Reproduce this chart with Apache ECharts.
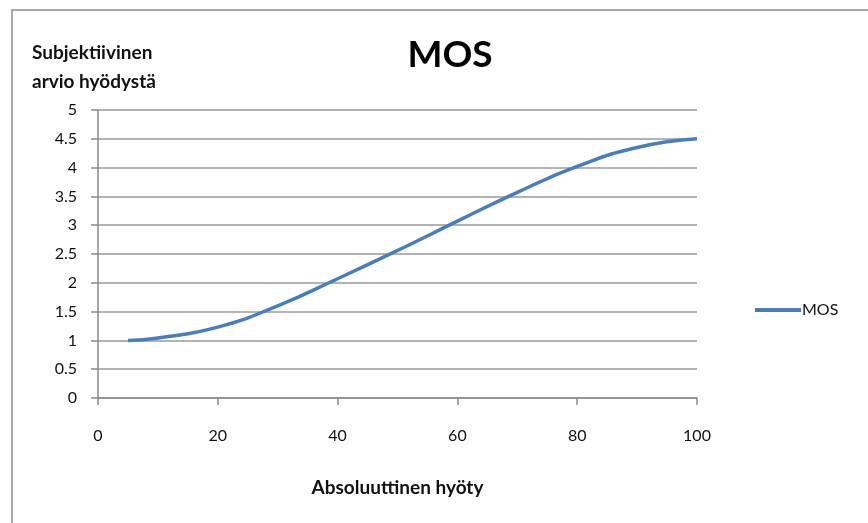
<!DOCTYPE html>
<html lang="fi">
<head>
    <meta charset="UTF-8">
    <title>MOS</title>
    <script src="https://cdn.jsdelivr.net/npm/echarts@6/dist/echarts.min.js"></script>
    <style>
        html, body { margin: 0; padding: 0; background: #fff; }
        #my { width: 868px; height: 523px; }
    </style>
</head>
<body>
<div id="my"></div>
<script>
    // arvot luettu kuvasta
    var xValues = [5, 10, 20, 30, 40, 50, 60, 70, 80, 90, 100]
    var mosValues = [1.0, 1.04, 1.23, 1.6, 2.07, 2.56, 3.07, 3.57, 4.02, 4.35, 4.5]
    var seriesName = 'MOS'

    var points = []
    for (var i = 0; i < xValues.length; i++) {
        points.push([xValues[i], mosValues[i]])
    }

    var fontName = 'Lato'
    var mCharts = echarts.init(document.getElementById('my'))
    var option = {
        backgroundColor: '#fff',
        animation: false,
        title: [
            {
                text: 'MOS',
                left: 445, top: 32,
                textAlign: 'center',
                textStyle: { fontFamily: fontName, fontSize: 37, fontWeight: 'bold', color: '#000' }
            },
            {
                text: 'Subjektiivinen\narvio hyödystä',
                left: 27, top: 33,
                textStyle: { fontFamily: fontName, fontSize: 19, fontWeight: 'bold', color: '#111', lineHeight: 29 }
            }
        ],
        graphic: [
            {
                type: 'rect',
                shape: { x: 12, y: 10, width: 900, height: 600 },
                style: { fill: 'none', stroke: '#a8a8a8', lineWidth: 2 },
                silent: true
            }
        ],
        legend: {
            left: 750, top: 297,
            icon: 'rect',
            itemWidth: 46, itemHeight: 4, itemGap: 4,
            textStyle: { fontFamily: fontName, fontSize: 16, color: '#111', padding: [0, 0, 0, -4] },
            data: [seriesName]
        },
        grid: { left: 98, right: 171, top: 110, bottom: 125 },
        xAxis: {
            type: 'value',
            min: 0, max: 100, interval: 20,
            name: 'Absoluuttinen hyöty',
            nameLocation: 'middle',
            nameGap: 80,
            nameTextStyle: { fontFamily: fontName, fontSize: 19, fontWeight: 'bold', color: '#111' },
            axisLine: { show: true, lineStyle: { color: '#8a8a8a', width: 1.5 } },
            axisTick: { show: true, length: 7, lineStyle: { color: '#8a8a8a', width: 1.5 } },
            axisLabel: { fontFamily: fontName, fontSize: 16, color: '#111', margin: 30 },
            splitLine: { show: false }
        },
        yAxis: {
            type: 'value',
            min: 0, max: 5, interval: 0.5,
            axisLine: { show: true, lineStyle: { color: '#8a8a8a', width: 1.5 } },
            axisTick: { show: true, length: 7, lineStyle: { color: '#8a8a8a', width: 1.5 } },
            axisLabel: { fontFamily: fontName, fontSize: 16, color: '#111', margin: 21 },
            splitLine: { show: true, lineStyle: { color: '#9a9a9a', width: 1.5 } }
        },
        series: [
            {
                name: seriesName,
                type: 'line',
                smooth: true,
                symbol: 'none',
                data: points,
                lineStyle: { color: '#4a7ebb', width: 3.5 },
                itemStyle: { color: '#4a7ebb' }
            }
        ]
    }
    mCharts.setOption(option)
    window.onresize = mCharts.resize
</script>
</body>
</html>
